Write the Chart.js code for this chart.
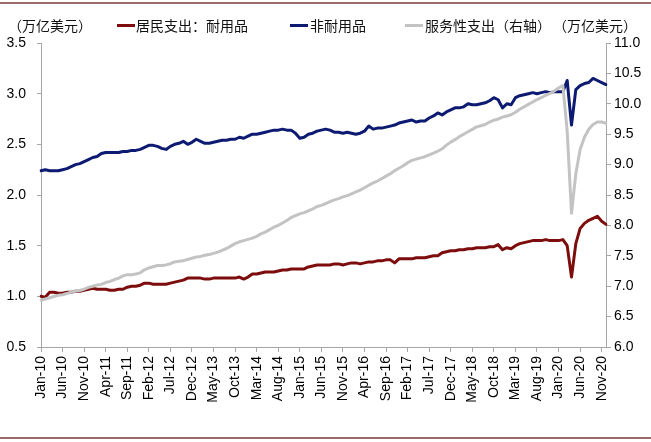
<!DOCTYPE html>
<html>
<head>
<meta charset="utf-8">
<script src="https://cdn.jsdelivr.net/npm/chart.js@4/dist/chart.umd.min.js"></script>
<style>
  body { margin: 0; background: #fff; }
  #wrap { position: relative; width: 651px; height: 442px; overflow: hidden; }
  #c { position: absolute; left: 0; top: 0; }
  .rule { position: absolute; left: 0; width: 651px; height: 2px; background: #9b6a6a; }
  .lg { position: absolute; top: 16px; font: 14px "Noto Sans CJK SC", sans-serif; color: #111; line-height: 18px; white-space: nowrap; }
  .mk { position: absolute; top: 24px; width: 18px; height: 3px; }
</style>
</head>
<body>
<div id="wrap">
  <canvas id="c" width="651" height="442"></canvas>
  <div class="rule" style="top:2px"></div>
  <div class="rule" style="top:437px"></div>
  <span class="lg" style="left:8px">（万亿美元）</span>
  <div class="mk" style="left:117px;background:#7d0c0c"></div>
  <span class="lg" style="left:136px">居民支出：耐用品</span>
  <div class="mk" style="left:290px;background:#0c1a72"></div>
  <span class="lg" style="left:310px">非耐用品</span>
  <div class="mk" style="left:405px;background:#c3c3c3"></div>
  <span class="lg" style="left:425px">服务性支出（右轴）</span>
  <span class="lg" style="left:553px">（万亿美元）</span>
</div>
<script>
// 月份 Jan-10 ~ Dec-20
const labels = [
  'Jan-10','Feb-10','Mar-10','Apr-10','May-10','Jun-10','Jul-10','Aug-10','Sep-10','Oct-10','Nov-10','Dec-10',
  'Jan-11','Feb-11','Mar-11','Apr-11','May-11','Jun-11','Jul-11','Aug-11','Sep-11','Oct-11','Nov-11','Dec-11',
  'Jan-12','Feb-12','Mar-12','Apr-12','May-12','Jun-12','Jul-12','Aug-12','Sep-12','Oct-12','Nov-12','Dec-12',
  'Jan-13','Feb-13','Mar-13','Apr-13','May-13','Jun-13','Jul-13','Aug-13','Sep-13','Oct-13','Nov-13','Dec-13',
  'Jan-14','Feb-14','Mar-14','Apr-14','May-14','Jun-14','Jul-14','Aug-14','Sep-14','Oct-14','Nov-14','Dec-14',
  'Jan-15','Feb-15','Mar-15','Apr-15','May-15','Jun-15','Jul-15','Aug-15','Sep-15','Oct-15','Nov-15','Dec-15',
  'Jan-16','Feb-16','Mar-16','Apr-16','May-16','Jun-16','Jul-16','Aug-16','Sep-16','Oct-16','Nov-16','Dec-16',
  'Jan-17','Feb-17','Mar-17','Apr-17','May-17','Jun-17','Jul-17','Aug-17','Sep-17','Oct-17','Nov-17','Dec-17',
  'Jan-18','Feb-18','Mar-18','Apr-18','May-18','Jun-18','Jul-18','Aug-18','Sep-18','Oct-18','Nov-18','Dec-18',
  'Jan-19','Feb-19','Mar-19','Apr-19','May-19','Jun-19','Jul-19','Aug-19','Sep-19','Oct-19','Nov-19','Dec-19',
  'Jan-20','Feb-20','Mar-20','Apr-20','May-20','Jun-20','Jul-20','Aug-20','Sep-20','Oct-20','Nov-20','Dec-20'
]

// 居民支出：耐用品（万亿美元，左轴）
const durables = [
  1.00,0.99,1.04,1.04,1.03,1.03,1.04,1.04,1.05,1.05,1.06,1.07,
  1.08,1.07,1.07,1.07,1.06,1.06,1.07,1.07,1.09,1.10,1.10,1.11,
  1.13,1.13,1.12,1.12,1.12,1.12,1.13,1.14,1.15,1.16,1.18,1.18,
  1.18,1.18,1.17,1.17,1.18,1.18,1.18,1.18,1.18,1.18,1.19,1.17,
  1.19,1.22,1.22,1.23,1.24,1.24,1.24,1.25,1.26,1.26,1.27,1.27,
  1.27,1.27,1.29,1.30,1.31,1.31,1.31,1.31,1.32,1.32,1.31,1.32,
  1.33,1.33,1.32,1.33,1.34,1.34,1.35,1.35,1.36,1.36,1.33,1.37,
  1.37,1.37,1.37,1.38,1.38,1.38,1.39,1.40,1.40,1.43,1.44,1.45,
  1.45,1.46,1.46,1.47,1.47,1.48,1.48,1.48,1.49,1.49,1.51,1.46,
  1.48,1.47,1.50,1.52,1.53,1.54,1.55,1.55,1.55,1.56,1.55,1.55,
  1.55,1.56,1.50,1.19,1.52,1.67,1.72,1.75,1.77,1.79,1.74,1.71
]

// 非耐用品（万亿美元，左轴）
const nondurables = [
  2.24,2.25,2.24,2.24,2.24,2.25,2.26,2.28,2.30,2.31,2.33,2.35,
  2.37,2.38,2.41,2.42,2.42,2.42,2.42,2.43,2.43,2.44,2.44,2.45,
  2.47,2.49,2.49,2.48,2.46,2.45,2.48,2.50,2.51,2.53,2.50,2.52,
  2.55,2.53,2.51,2.51,2.52,2.53,2.54,2.54,2.55,2.55,2.57,2.56,
  2.58,2.60,2.60,2.61,2.62,2.63,2.64,2.64,2.65,2.64,2.64,2.61,
  2.56,2.57,2.60,2.61,2.63,2.64,2.65,2.64,2.62,2.62,2.61,2.62,
  2.61,2.60,2.61,2.63,2.68,2.65,2.66,2.66,2.67,2.68,2.69,2.71,
  2.72,2.73,2.74,2.72,2.73,2.73,2.76,2.78,2.81,2.79,2.82,2.84,
  2.86,2.86,2.87,2.90,2.89,2.89,2.90,2.91,2.93,2.96,2.94,2.86,
  2.90,2.89,2.96,2.98,2.99,3.00,3.01,3.00,3.01,3.02,3.01,3.02,
  3.02,3.02,3.13,2.69,3.04,3.08,3.10,3.11,3.15,3.13,3.11,3.09
]

// 服务性支出（万亿美元，右轴）
const services = [
  6.77,6.79,6.81,6.83,6.85,6.86,6.88,6.90,6.92,6.93,6.95,6.98,
  7.00,7.02,7.03,7.06,7.08,7.11,7.13,7.17,7.19,7.19,7.20,7.22,
  7.27,7.30,7.32,7.34,7.34,7.35,7.37,7.40,7.41,7.42,7.44,7.46,
  7.48,7.49,7.51,7.52,7.54,7.56,7.59,7.62,7.66,7.70,7.73,7.75,
  7.77,7.79,7.82,7.86,7.89,7.93,7.97,8.00,8.04,8.08,8.13,8.16,
  8.19,8.21,8.24,8.27,8.31,8.33,8.36,8.39,8.42,8.44,8.47,8.49,
  8.52,8.55,8.58,8.62,8.66,8.70,8.73,8.77,8.81,8.85,8.90,8.94,
  8.98,9.03,9.07,9.09,9.11,9.13,9.16,9.19,9.22,9.26,9.32,9.37,
  9.41,9.46,9.50,9.54,9.58,9.62,9.64,9.66,9.70,9.73,9.75,9.78,
  9.80,9.82,9.86,9.91,9.95,9.99,10.03,10.07,10.10,10.14,10.17,10.21,
  10.26,10.30,9.55,8.20,8.85,9.25,9.45,9.58,9.66,9.70,9.70,9.68
]

const axisGray = '#a6a6a6'
const tickFont = { family: '"Liberation Sans", Arial, sans-serif', size: 14 }

new Chart(document.getElementById('c'), {
  type: 'line',
  data: {
    labels: labels,
    datasets: [
      { label: '居民支出：耐用品', data: durables, borderColor: '#7d0c0c', backgroundColor: '#7d0c0c', yAxisID: 'y', order: 2 },
      { label: '非耐用品', data: nondurables, borderColor: '#0c1a72', backgroundColor: '#0c1a72', yAxisID: 'y', order: 1 },
      { label: '服务性支出（右轴）', data: services, borderColor: '#c3c3c3', backgroundColor: '#c3c3c3', yAxisID: 'y1', order: 0 }
    ]
  },
  options: {
    responsive: false,
    animation: false,
    layout: { padding: { top: 43, bottom: 0, left: 0, right: 0 } },
    elements: {
      line: { borderWidth: 3, tension: 0, borderJoinStyle: 'round', borderCapStyle: 'round' },
      point: { radius: 0 }
    },
    plugins: { legend: { display: false }, tooltip: { enabled: false } },
    scales: {
      x: {
        offset: false,
        grid: { display: true, drawOnChartArea: false, drawTicks: true, tickLength: 5, color: axisGray },
        border: { color: axisGray, width: 1 },
        ticks: {
          autoSkip: false, minRotation: 90, maxRotation: 90, padding: 4,
          color: '#000', font: tickFont,
          callback: (v, i) => i % 5 === 0 ? labels[i] : null
        },
        afterFit: s => { s.height = 95 }
      },
      y: {
        position: 'left', min: 0.5, max: 3.5,
        grid: { display: true, drawOnChartArea: false, drawTicks: true, tickLength: 4, color: axisGray },
        border: { color: axisGray, width: 1 },
        ticks: { stepSize: 0.5, padding: 11, color: '#000', font: tickFont, callback: v => v.toFixed(1) },
        afterFit: s => { s.width = 41 }
      },
      y1: {
        position: 'right', min: 6, max: 11,
        grid: { display: true, drawOnChartArea: false, drawTicks: true, tickLength: 5, color: axisGray },
        border: { color: axisGray, width: 1 },
        ticks: { stepSize: 0.5, padding: 3, color: '#000', font: tickFont, callback: v => v.toFixed(1) },
        afterFit: s => { s.width = 45 }
      }
    }
  }
})
</script>
</body>
</html>
